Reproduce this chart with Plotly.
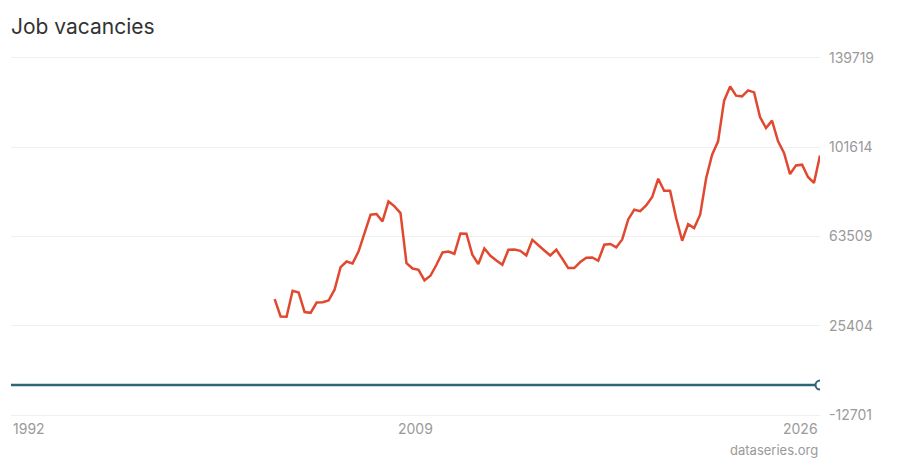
import plotly.graph_objects as go
import pandas as pd

title_text = "Job vacancies"
source_text = "dataseries.org"

# Quarterly job vacancies, 2003 Q1 - 2025 Q4
vac_start = "2003-01-01"
vacancies = [
    36800, 29400, 29250, 40350, 39600, 31250, 30950, 35350, 35500, 36200,
    40800, 50450, 52850, 52000, 57100, 65000, 72800, 73100, 69950, 78450,
    76350, 73500, 52150, 49850, 49300, 44750, 46750, 51450, 56700, 57100,
    56150, 64800, 64700, 55700, 51750, 58400, 55300, 53300, 51450, 57850,
    58000, 57400, 55400, 62100, 60000, 57550, 55400, 57850, 54000, 50050,
    50050, 52600, 54450, 54550, 53150, 60000, 60300, 58850, 62250, 70800,
    74950, 74300, 76750, 80350, 88150, 83050, 83050, 71400, 61700, 68800,
    67100, 72800, 88450, 98400, 104100, 121450, 127550, 123600, 123300, 125850,
    125000, 114500, 109800, 112950, 104100, 99150, 90150, 93850, 94150, 88900,
    86350, 98100,
]

# Second series (near zero), annual points 1992-2025 plus last quarter
second_dates = [f"{y}-01-01" for y in range(1992, 2026)] + ["2025-10-01"]
second_vals = [
    150, 150, 150, 150, 150, 180, 250, 250, 250, 250,
    200, 50, 50, 50, 50, 50, 50, 50, 50, 50,
    50, 50, 50, 50, 50, 50, 50, 50, 100, 100,
    100, 100, 100, 100, 100,
]

y_ticks = [-12701, 25404, 63509, 101614, 139719]
x_tick_dates = ["1992-01-01", "2008-11-15", "2025-10-01"]
x_tick_labels = ["1992", "2009", "2026"]

vac_dates = pd.date_range(vac_start, periods=len(vacancies), freq="QS")

red = "#e0492f"
teal = "#2c6676"
grey = "#9a9a9a"

# page body has an 8px default margin; size the figure to fill the window
W, H = 892, 452
pad = 800  # small range padding so the edge gridlines are drawn

fig = go.Figure()
fig.add_trace(go.Scatter(x=second_dates, y=second_vals, mode="lines",
                         line=dict(color=teal, width=2.5), hoverinfo="skip",
                         showlegend=False))
fig.add_trace(go.Scatter(x=[second_dates[-1]], y=[second_vals[-1]], mode="markers",
                         marker=dict(size=9, color="white", line=dict(color=teal, width=2)),
                         showlegend=False))
fig.add_trace(go.Scatter(x=vac_dates, y=vacancies, mode="lines",
                         line=dict(color=red, width=2.5), showlegend=False))

annotations = []
anchors = ["left", "center", "right"]
for d, t, a in zip(x_tick_dates, x_tick_labels, anchors):
    annotations.append(dict(x=d, xref="x", y=0, yref="paper", yanchor="top",
                            xanchor=a, yshift=-1, text=t, showarrow=False,
                            font=dict(family="Inter", size=14, color=grey)))
annotations.append(dict(x=1, xref="paper", xanchor="right", y=0, yref="paper",
                        yanchor="middle", yshift=-33, text=source_text, showarrow=False,
                        font=dict(family="Inter", size=13, color=grey)))

fig.update_layout(
    width=W, height=H,
    margin=dict(l=3, r=80, t=48, b=43),
    paper_bgcolor="white", plot_bgcolor="white",
    font=dict(family="Inter", color=grey),
    title=dict(text=title_text, x=3/W, xref="container", xanchor="left",
               y=1 - 19/H, yref="container", yanchor="middle",
               font=dict(family="Inter", size=21, color="#333333")),
    xaxis=dict(range=["1992-01-01", "2025-10-01"], showgrid=False, zeroline=False,
               showticklabels=False, ticks="", showline=False),
    yaxis=dict(range=[y_ticks[0] - pad, y_ticks[-1] + pad], side="right", tickmode="array",
               tickvals=y_ticks, ticktext=[str(v) for v in y_ticks],
               showgrid=True, gridcolor="#efefef", gridwidth=1, zeroline=False,
               ticks="", ticklabelstandoff=8,
               tickfont=dict(family="Inter", size=14, color=grey)),
    annotations=annotations,
    hovermode=False,
)

fig.write_html("out.html")
